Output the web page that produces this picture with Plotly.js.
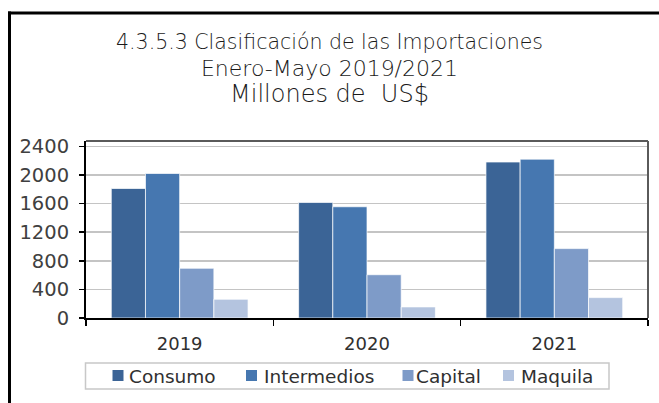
<!DOCTYPE html>
<html><head><meta charset="utf-8">
<script src="https://cdn.plot.ly/plotly-3.0.1.min.js"></script>
<style>html,body{margin:0;padding:0;background:#fff;}#chart{width:659px;height:403px;}</style>
</head><body><div id="chart"></div>
<script>
const years = ['2019', '2020', '2021'];
const seriesNames = ['Consumo', 'Intermedios', 'Capital', 'Maquila'];
const consumo = [1810, 1615, 2180];
const intermedios = [2020, 1555, 2220];
const capital = [695, 605, 970];
const maquila = [262, 155, 285];
const colors = ['#3B6496', '#4677B0', '#7E9BC8', '#B4C4DF'];
const yTicks = [0, 400, 800, 1200, 1600, 2000, 2400];

const FONT = 'DejaVu Sans, sans-serif';
const values = [consumo, intermedios, capital, maquila];
const traces = seriesNames.map((n, i) => ({
  type: 'bar', name: n, x: years, y: values[i],
  marker: {color: colors[i], line: {color: 'rgba(255,255,255,0.7)', width: 1}},
  hoverinfo: 'none'
}));

const L = 86, R = 648, T = 141, B = 318, W = 659, H = 403;
const px2x = p => (p - L) / (R - L);
const px2y = p => (B - p) / (B - T);

// manual legend (built from series names & colours)
const legSquareX = [112.5, 246, 402.5, 503];
const legTextX = [127.5, 262.5, 415, 519.5];
const legShapes = [{type: 'rect', xref: 'paper', yref: 'paper', x0: px2x(85.5), x1: px2x(609), y0: px2y(363), y1: px2y(389),
  line: {color: '#c8c8c8', width: 1.5}, fillcolor: 'rgba(0,0,0,0)'}];
const legAnn = [];
seriesNames.forEach((n, i) => {
  legShapes.push({type: 'rect', xref: 'paper', yref: 'paper', x0: px2x(legSquareX[i]), x1: px2x(legSquareX[i] + 11),
    y0: px2y(370), y1: px2y(381), line: {width: 0}, fillcolor: colors[i]});
  legAnn.push({text: n, xref: 'paper', yref: 'paper', x: px2x(legTextX[i]), y: px2y(376), xanchor: 'left', yanchor: 'middle',
    showarrow: false, font: {family: FONT, size: 18.5, color: '#303030'}, borderpad: 0});
});

const layout = {
  width: W, height: H,
  margin: {l: L, r: W - R, t: T, b: H - B, pad: 0},
  paper_bgcolor: '#ffffff', plot_bgcolor: '#ffffff',
  font: {family: FONT, color: '#404040'},
  showlegend: false,
  barmode: 'group', bargap: 0.27, bargroupgap: 0,
  title: {
    text: '<span style="font-size:20.5px">4.3.5.3 Clasificación de las Importaciones</span><br><span style="font-size:22px">Enero-Mayo 2019/2021</span><br><span style="font-size:24px">Millones de  US$</span>',
    font: {family: FONT, size: 20.5, color: '#1a1a1a', weight: 300},
    x: 0.5, xref: 'container', xanchor: 'center',
    y: 1 - 49 / H, yref: 'container', yanchor: 'top'
  },
  xaxis: {
    type: 'category', tickson: 'boundaries', ticks: 'outside', ticklen: 6,
    tickcolor: '#000', tickwidth: 1.5, showline: true, linecolor: '#000', linewidth: 2,
    showgrid: false, tickfont: {family: FONT, size: 18, color: '#303030'},
    ticklabelstandoff: 8, fixedrange: true
  },
  yaxis: {
    range: [0, 2474], tickvals: yTicks, ticktext: yTicks.map(String),
    ticks: 'outside', ticklen: 5, tickcolor: '#000', tickwidth: 1.5,
    showline: true, linecolor: '#000', linewidth: 2,
    showgrid: true, gridcolor: '#c4c4c4', gridwidth: 1.5, zeroline: false,
    tickfont: {family: FONT, size: 19.5, color: '#404040'},
    ticklabelstandoff: 6, fixedrange: true
  },
  annotations: legAnn,
  shapes: [
    {type: 'line', xref: 'paper', yref: 'paper', x0: 0, x1: 1, y0: 1, y1: 1, line: {color: '#5a5a5a', width: 2}},
    {type: 'line', xref: 'paper', yref: 'paper', x0: 1, x1: 1, y0: 0, y1: 1, line: {color: '#5a5a5a', width: 2}},
    {type: 'line', xref: 'paper', yref: 'paper', x0: px2x(9.5), x1: px2x(9.5), y0: px2y(11.5), y1: px2y(420), line: {color: '#000', width: 3}},
    {type: 'line', xref: 'paper', yref: 'paper', x0: px2x(8), x1: px2x(680), y0: px2y(13), y1: px2y(13), line: {color: '#000', width: 3}}
  ].concat(legShapes)
};
Plotly.newPlot('chart', traces, layout, {staticPlot: true, displayModeBar: false});
</script></body></html>
